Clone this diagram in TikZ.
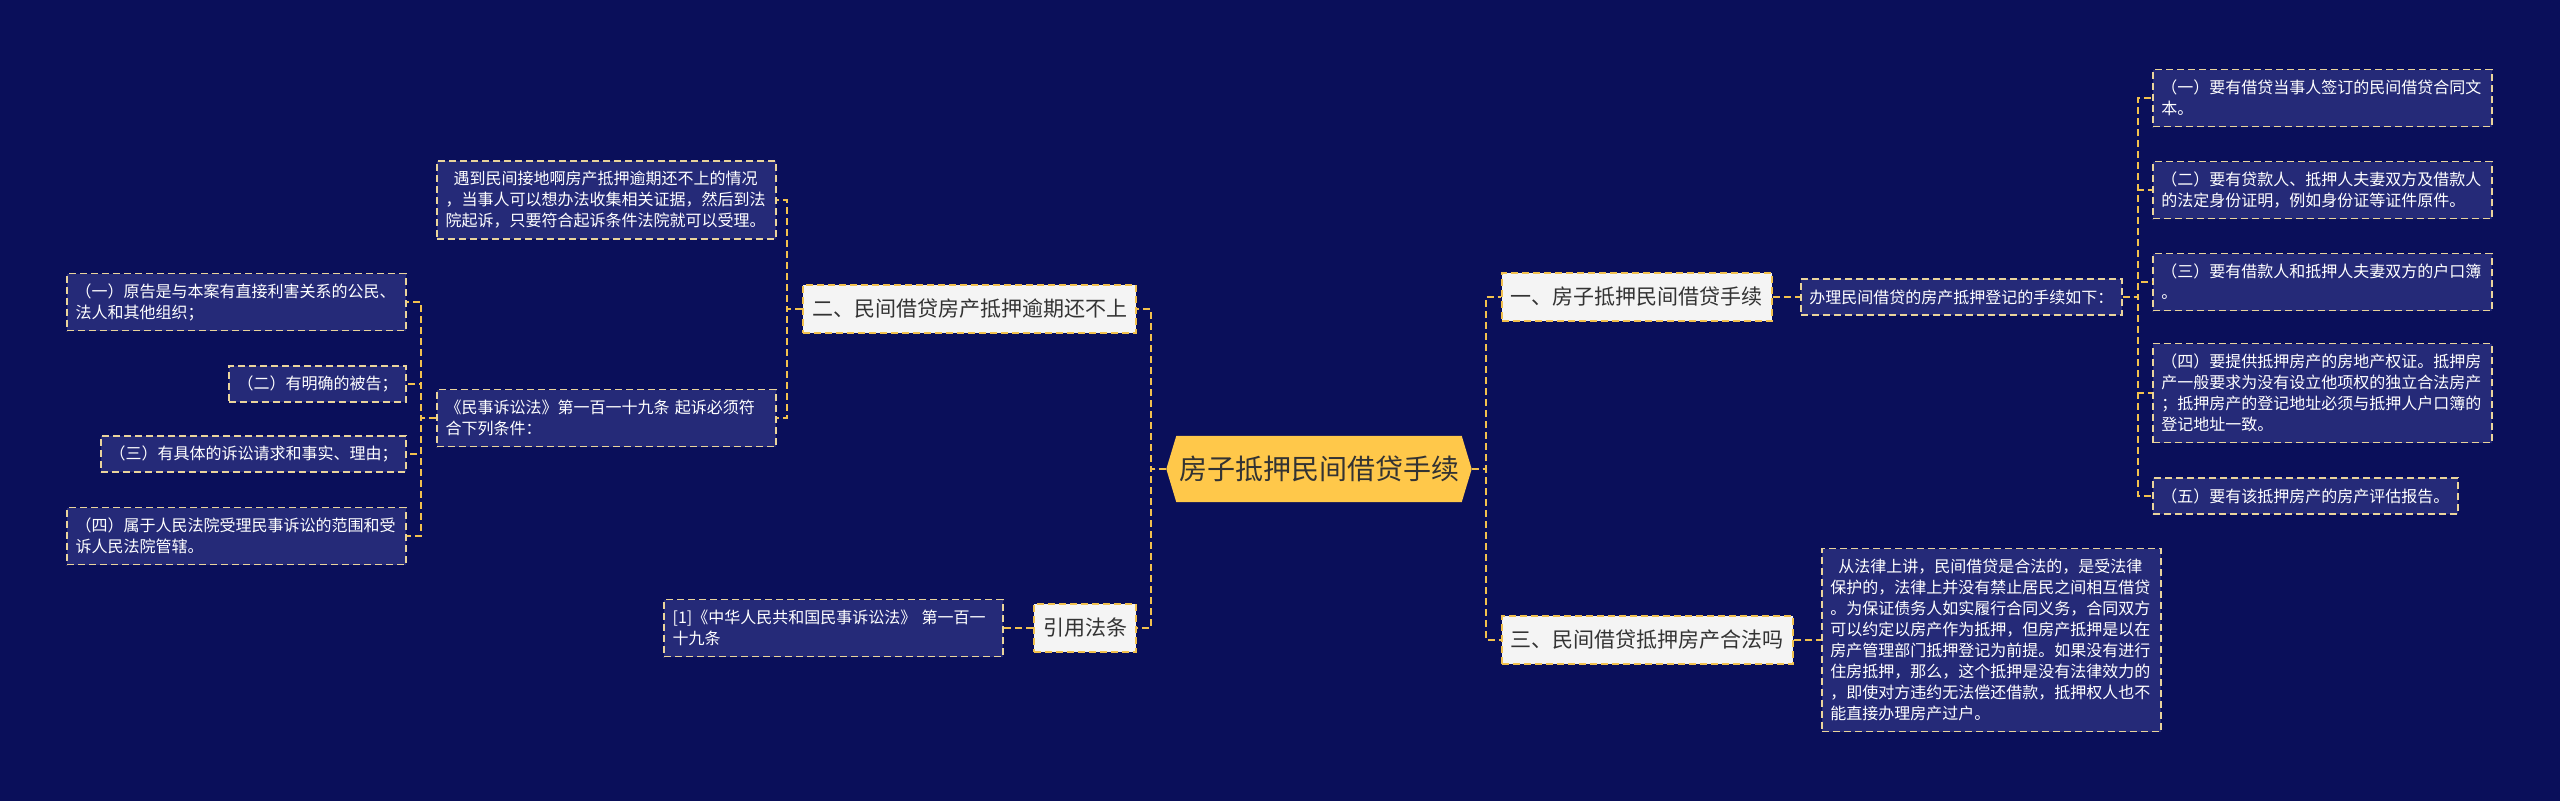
\documentclass[tikz,border=0pt]{standalone}
\usepackage{fontspec}
\setmainfont{Noto Sans CJK SC}
\usetikzlibrary{calc}
\definecolor{bg}{HTML}{0A0F5A}
\definecolor{boxfill}{HTML}{252A78}
\definecolor{boxline}{HTML}{EAD49C}
\definecolor{conncol}{HTML}{F2C14E}
\definecolor{lvl}{HTML}{F4F4F4}
\definecolor{rootfill}{HTML}{FFC84A}
\definecolor{darktext}{HTML}{333333}
\pgfdeclarelayer{background}
\pgfsetlayers{background,main}
\begin{document}
\begin{tikzpicture}[x=1pt,y=-1pt,
  sb/.style={draw=boxline, line width=1.8pt, dash pattern=on 7pt off 4pt, fill=boxfill, text=white,
    font=\fontsize{16}{21}\selectfont, align=left, inner xsep=8.5pt, inner ysep=4pt},
  wide/.style={text width=322pt},
  bh/.style={minimum height=#1},
  lv/.style={draw=conncol, line width=1.8pt, dash pattern=on 7pt off 4pt, fill=lvl, text=darktext,
    font=\fontsize{21}{25}\selectfont, inner xsep=9pt, inner ysep=4pt, minimum height=48pt},
  cn/.style={draw=conncol, line width=2.2pt, dash pattern=on 7pt off 4pt},
]
\begin{pgfonlayer}{background}
\fill[bg] (0,0) rectangle (2560,801);
\end{pgfonlayer}
\useasboundingbox (0,0) rectangle (2560,801);

% root
\node[minimum width=305pt, minimum height=66pt, inner sep=0pt, font=\fontsize{28}{32}\selectfont, text=darktext] (root) at (1319,469) {房子抵押民间借贷手续};
\begin{pgfonlayer}{background}
\fill[rootfill] (root.west) -- ([xshift=10pt]root.north west) -- ([xshift=-10pt]root.north east) -- (root.east) -- ([xshift=-10pt]root.south east) -- ([xshift=10pt]root.south west) -- cycle;
\end{pgfonlayer}

% left side
\node[lv,anchor=east] (two) at (1137,309) {二、民间借贷房产抵押逾期还不上};
\node[lv,anchor=east] (yy) at (1137,628) {引用法条};
\node[sb,wide,bh=78pt,anchor=east] (l1) at (777,200) {\hspace*{8pt}遇到民间接地啊房产抵押逾期还不上的情况\\，当事人可以想办法收集相关证据，然后到法\\院起诉，只要符合起诉条件法院就可以受理。};
\node[sb,wide,bh=57pt,anchor=east] (l2) at (777,418) {《民事诉讼法》第一百一十九条 起诉必须符\\合下列条件：};
\node[sb,wide,bh=57pt,anchor=east] (la) at (407,302) {（一）原告是与本案有直接利害关系的公民、\\法人和其他组织；};
\node[sb,bh=36pt,anchor=east] (lb) at (407,384) {（二）有明确的被告；};
\node[sb,bh=36pt,anchor=east] (lc) at (407,454) {（三）有具体的诉讼请求和事实、理由；};
\node[sb,wide,bh=57pt,anchor=east] (ld) at (407,536) {（四）属于人民法院受理民事诉讼的范围和受\\诉人民法院管辖。};
\node[sb,wide,bh=57pt,anchor=east] (cite) at (1004,628) {[1]《中华人民共和国民事诉讼法》 第一百一\\十九条};

% right side
\node[lv,anchor=west] (one) at (1501,297) {一、房子抵押民间借贷手续};
\node[lv,anchor=west] (three) at (1501,640) {三、民间借贷抵押房产合法吗};
\node[sb,bh=36pt,anchor=west] (banli) at (1800,297) {办理民间借贷的房产抵押登记的手续如下：};
\node[sb,wide,bh=57pt,anchor=west] (ra) at (2152,98) {（一）要有借贷当事人签订的民间借贷合同文\\本。};
\node[sb,wide,bh=57pt,anchor=west] (rb) at (2152,190) {（二）要有贷款人、抵押人夫妻双方及借款人\\的法定身份证明，例如身份证等证件原件。};
\node[sb,wide,bh=57pt,anchor=west] (rc) at (2152,282) {（三）要有借款人和抵押人夫妻双方的户口簿\\。};
\node[sb,wide,bh=99pt,anchor=west] (rd) at (2152,393) {（四）要提供抵押房产的房地产权证。抵押房\\产一般要求为没有设立他项权的独立合法房产\\；抵押房产的登记地址必须与抵押人户口簿的\\登记地址一致。};
\node[sb,bh=36pt,anchor=west] (re) at (2152,496) {（五）要有该抵押房产的房产评估报告。};
\node[sb,wide,bh=183pt,anchor=west] (fl) at (1821,640) {\hspace*{8pt}从法律上讲，民间借贷是合法的，是受法律\\保护的，法律上并没有禁止居民之间相互借贷\\。为保证债务人如实履行合同义务，合同双方\\可以约定以房产作为抵押，但房产抵押是以在\\房产管理部门抵押登记为前提。如果没有进行\\住房抵押，那么，这个抵押是没有法律效力的\\，即使对方违约无法偿还借款，抵押权人也不\\能直接办理房产过户。};

% connectors
\draw[cn] (root.west) -- ++(-15,0) |- (two.east);
\draw[cn] (root.west) -- ++(-15,0) |- (yy.east);
\draw[cn] (root.east) -- ++(14,0) |- (one.west);
\draw[cn] (root.east) -- ++(14,0) |- (three.west);
\draw[cn] (two.west) -- ++(-15,0) |- (l1.east);
\draw[cn] (two.west) -- ++(-15,0) |- (l2.east);
\draw[cn] (l2.west) -- ++(-15,0) |- (la.east);
\draw[cn] (l2.west) -- ++(-15,0) |- (lb.east);
\draw[cn] (l2.west) -- ++(-15,0) |- (lc.east);
\draw[cn] (l2.west) -- ++(-15,0) |- (ld.east);
\draw[cn] (yy.west) -- (cite.east);
\draw[cn] (one.east) -- (banli.west);
\draw[cn] (banli.east) -- ++(15,0) |- (ra.west);
\draw[cn] (banli.east) -- ++(15,0) |- (rb.west);
\draw[cn] (banli.east) -- ++(15,0) |- (rc.west);
\draw[cn] (banli.east) -- ++(15,0) |- (rd.west);
\draw[cn] (banli.east) -- ++(15,0) |- (re.west);
\draw[cn] (three.east) -- (fl.west);
\end{tikzpicture}
\end{document}
